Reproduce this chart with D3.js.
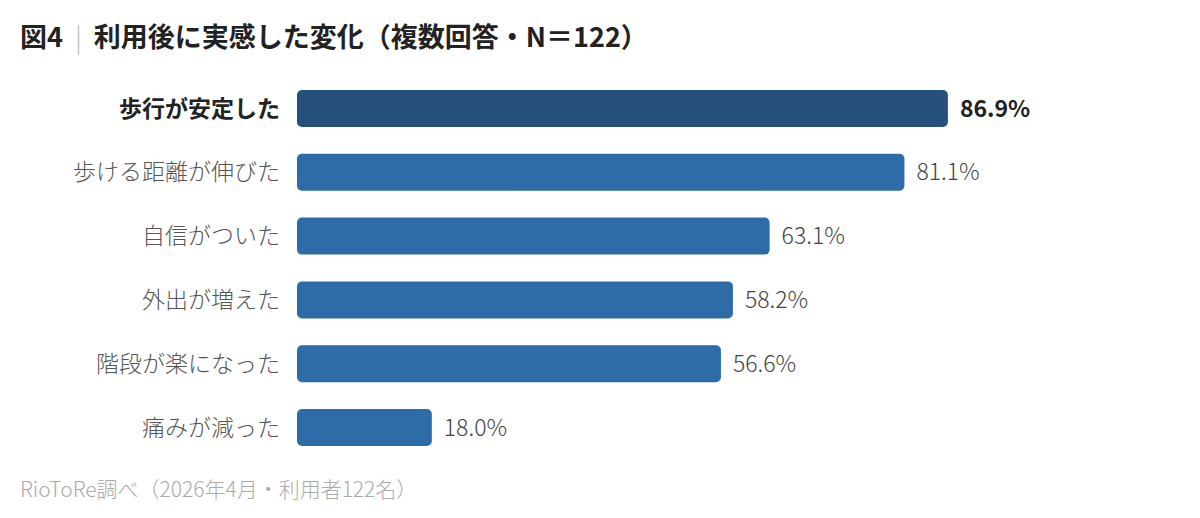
<!DOCTYPE html>
<html>
<head>
<meta charset="utf-8">
<script src="https://cdn.jsdelivr.net/npm/d3@7"></script>
<style>
  body { margin: 0; background: #fff; }
  svg { font-family: "Noto Sans CJK JP", "Noto Sans", sans-serif; }
</style>
</head>
<body>
<div id="chart"></div>
<script>
const categories = ["歩行が安定した", "歩ける距離が伸びた", "自信がついた", "外出が増えた", "階段が楽になった", "痛みが減った"];
const values = [86.9, 81.1, 63.1, 58.2, 56.6, 18.0];
const valueLabels = ["86.9%", "81.1%", "63.1%", "58.2%", "56.6%", "18.0%"];

const width = 1200;
const height = 518;

const svg = d3
  .select("#chart")
  .append("svg")
  .attr("width", width)
  .attr("height", height);

// title
const title = svg.append("text").attr("x", 20).attr("y", 47)
  .style("font-size", "27px").style("font-weight", "bold").style("fill", "#222");
title.append("tspan").text("図4");
title.append("tspan").attr("dx", 12).style("fill", "#bbb").style("font-weight", "300").text("|");
title.append("tspan").attr("dx", 12).text("利用後に実感した変化（複数回答・N＝122）");

const xScale = d3.scaleLinear().domain([0, 100]).range([297, 1046]);

const yScale = d3
  .scaleBand()
  .domain(categories)
  .range([76.6, 459.4])
  .paddingInner(0.42)
  .paddingOuter(0.21);

const data = categories.map((c, i) => ({ cat: c, value: values[i], label: valueLabels[i], top: i === 0 }));

svg
  .selectAll(".bar")
  .data(data)
  .enter()
  .append("rect")
  .attr("class", "bar")
  .attr("x", xScale(0))
  .attr("y", (d) => yScale(d.cat))
  .attr("width", (d) => xScale(d.value) - xScale(0))
  .attr("height", yScale.bandwidth())
  .attr("rx", 5)
  .attr("fill", (d) => (d.top ? "#24507b" : "#2e6ca7"));

svg
  .selectAll(".cat")
  .data(data)
  .enter()
  .append("text")
  .attr("class", "cat")
  .attr("x", 280)
  .attr("y", (d) => yScale(d.cat) + yScale.bandwidth() / 2)
  .attr("dy", "0.35em")
  .attr("text-anchor", "end")
  .style("font-size", "23px")
  .style("font-weight", (d) => (d.top ? "bold" : "300"))
  .style("fill", (d) => (d.top ? "#222" : "#555"))
  .text((d) => d.cat);

svg
  .selectAll(".val")
  .data(data)
  .enter()
  .append("text")
  .attr("class", "val")
  .attr("x", (d) => xScale(d.value) + 12)
  .attr("y", (d) => yScale(d.cat) + yScale.bandwidth() / 2)
  .attr("dy", "0.35em")
  .style("font-size", "23px")
  .style("font-weight", (d) => (d.top ? "bold" : "300"))
  .style("fill", (d) => (d.top ? "#222" : "#444"))
  .text((d) => d.label);

svg
  .append("text")
  .attr("x", 20)
  .attr("y", 497)
  .style("font-size", "21px")
  .style("font-weight", "300")
  .style("fill", "#aaa")
  .text("RioToRe調べ（2026年4月・利用者122名）");
</script>
</body>
</html>
